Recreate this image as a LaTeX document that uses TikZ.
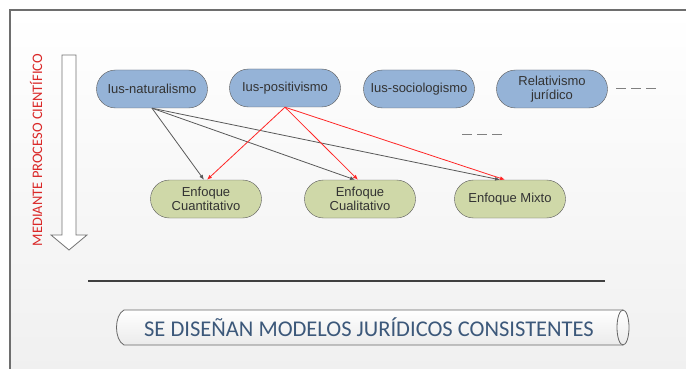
\documentclass[tikz,border=0pt]{standalone}
\usepackage{fontspec}
\setmainfont{Liberation Sans}
\newfontfamily\calibri{Carlito}
\usetikzlibrary{shapes.misc}
\usetikzlibrary{arrows.meta}

\definecolor{corriente}{RGB}{149,179,215}
\definecolor{enfoque}{RGB}{207,216,168}
\definecolor{textoazul}{RGB}{60,88,122}
\definecolor{marco}{RGB}{110,110,110}
\definecolor{rojoproc}{RGB}{218,40,40}

\begin{document}
\begin{tikzpicture}[x=1pt,y=-1pt,
	corr/.style={rounded rectangle, draw=black!65, fill=corriente, minimum width=115pt, minimum height=38pt, align=center, font=\fontsize{13}{14.5}\selectfont, text=black!80, inner sep=2pt},
	enf/.style={corr, fill=enfoque},
	flecha/.style={-{Latex[length=5pt,width=4pt]}, line width=0.8pt, black!65},
	flecharoja/.style={flecha, red!85}]
	\useasboundingbox (0,0) rectangle (686,369);
	\clip (0,0) rectangle (686,369);
	% marco y fondo
	\shade[top color=white, bottom color=black!6] (10,10) rectangle (700,380);
	\draw[marco, line width=1.2pt] (700,10) -- (10,10) -- (10,380);

	% flecha vertical
	\draw[black!55, line width=0.8pt, fill=white] (62,55) -- (76,55) -- (76,235) -- (87,235) -- (69,250) -- (51,235) -- (62,235) -- cycle;
	\node[rotate=90, text=rojoproc, font=\calibri\fontsize{14.5}{14.5}\selectfont] (proceso) at (36,150) {MEDIANTE PROCESO CIENTÍFICO};

	\node[corr] (nat) at (152,89) {Ius-naturalismo};
	\node[corr] (pos) at (285,88) {Ius-positivismo};
	\node[corr] (soc) at (419,89) {Ius-sociologismo};
	\node[corr] (rel) at (552,89) {Relativismo\\jurídico};
	\draw[black!50, line width=1pt, dash pattern=on 10pt off 5pt] (616,89) -- (656,89);
	\draw[black!50, line width=1pt, dash pattern=on 10pt off 5pt] (462,134) -- (505,134);

	\node[enf] (cuan) at (206,199) {Enfoque\\Cuantitativo};
	\node[enf] (cual) at (360,199) {Enfoque\\Cualitativo};
	\node[enf] (mix) at (510,199) {Enfoque Mixto};

	\draw[flecha] (nat.south) -- ([xshift=-2pt]cuan.north);
	\draw[flecha] (nat.south) -- ([xshift=-5pt]cual.north);
	\draw[flecha] (nat.south) -- ([xshift=-10pt]mix.north);
	\draw[flecharoja] (pos.south) -- ([xshift=1pt]cuan.north);
	\draw[flecharoja] (pos.south) -- ([xshift=-2pt]cual.north);
	\draw[flecharoja] (pos.south) -- ([xshift=-5pt]mix.north);

	\draw[black!75, line width=2pt] (88,281) -- (605,281);

	% cilindro
	\shade[top color=white, bottom color=black!8, draw=black!60, line width=0.8pt] (124,310) -- (623,310) arc[start angle=-90, end angle=90, x radius=6, y radius=17.5] -- (124,345) .. controls (114,340) and (114,315) .. (124,310) -- cycle;
	\draw[black!60, line width=0.8pt] (623,310) arc[start angle=-90, end angle=-270, x radius=6, y radius=17.5];
	\node[text=textoazul, font=\calibri\fontsize{22.5}{22.5}\selectfont] (modelos) at (369,327) {SE DISEÑAN MODELOS JURÍDICOS CONSISTENTES};
\end{tikzpicture}
\end{document}
